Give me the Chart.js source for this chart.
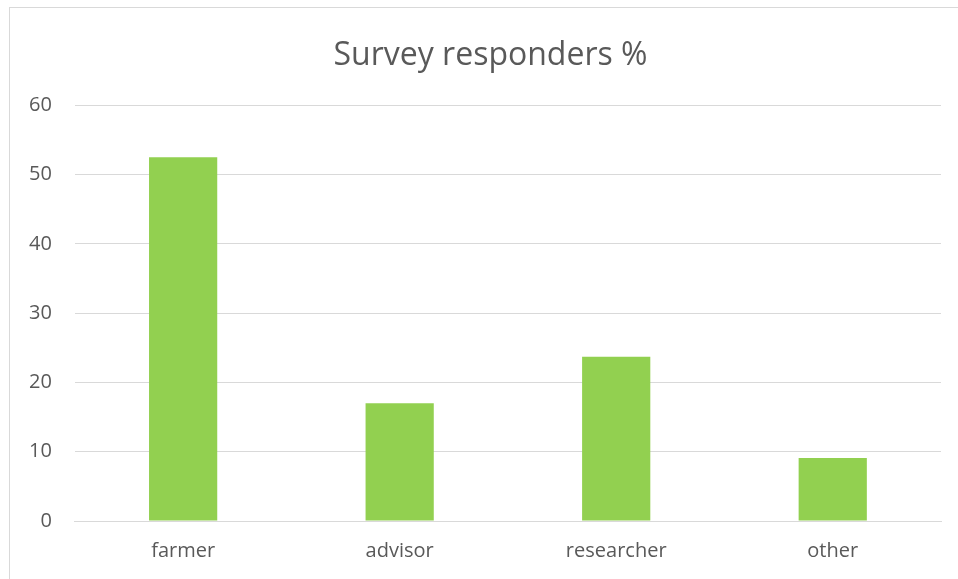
<!DOCTYPE html>
<html>
<head>
<meta charset="utf-8">
<script src="https://cdn.jsdelivr.net/npm/chart.js@4"></script>
<style>
  html, body { margin: 0; padding: 0; background: #fff; }
  #wrap { position: relative; width: 958px; height: 579px; }
  #frame { position: absolute; left: 9px; top: 7px; width: 960px; height: 600px;
           border-left: 1px solid #d9d9d9; border-top: 1px solid #d9d9d9; }
  canvas { position: absolute; left: 0; top: 0; }
</style>
</head>
<body>
<div id="wrap">
  <div id="frame"></div>
  <canvas id="myChart" width="958" height="579"></canvas>
</div>
<script>
// categories and values (percent of responders) //
const categories = ["farmer", "advisor", "researcher", "other"];
const responders = [52.5, 17.0, 23.7, 9.1];
const yTicks = [0, 10, 20, 30, 40, 50, 60];

const textGrey = "#595959";
const fontFamily = "'Open Sans', 'Liberation Sans', sans-serif";

// title sits a little right of the canvas centre in the original //
const nudgeTitle = {
  id: "nudgeTitle",
  afterLayout: function (chart) {
    if (chart.titleBlock) chart.titleBlock.left += 34;
  }
};

new Chart("myChart", {
  type: "bar",
  data: {
    labels: categories,
    datasets: [{
      data: responders,
      backgroundColor: "#92d050",
      borderWidth: 0,
      categoryPercentage: 1,
      barPercentage: 0.315
    }]
  },
  options: {
    responsive: false,
    animation: false,
    layout: { padding: { left: 6, right: 17, top: 10, bottom: 6 } },
    plugins: {
      legend: { display: false },
      tooltip: { enabled: false },
      title: {
        display: true,
        text: "Survey responders %",
        color: textGrey,
        font: { family: fontFamily, size: 32, weight: "normal" },
        padding: { top: 27, bottom: 30 }
      }
    },
    scales: {
      x: {
        grid: { display: false },
        border: { color: "#d9d9d9", width: 1 },
        ticks: { color: textGrey, font: { family: fontFamily, size: 20 }, padding: 10 }
      },
      y: {
        min: yTicks[0],
        max: yTicks[yTicks.length - 1],
        afterBuildTicks: function (axis) {
          axis.ticks = yTicks.map(function (v) { return { value: v }; });
        },
        grid: { color: "#d9d9d9", lineWidth: 1, drawTicks: false },
        border: { display: false },
        ticks: { color: textGrey, font: { family: fontFamily, size: 20 }, padding: 23 }
      }
    }
  },
  plugins: [nudgeTitle]
});
</script>
</body>
</html>
